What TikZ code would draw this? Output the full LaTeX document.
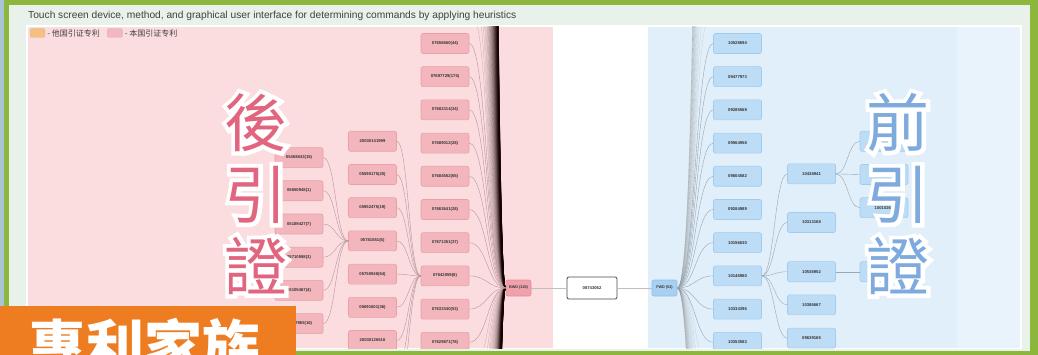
\documentclass[tikz,border=0pt]{standalone}
\usepackage{fontspec}
\setmainfont{Liberation Sans}
\newfontfamily\cjkfont{Noto Sans CJK TC}
\newfontfamily\cjkhalo[FakeBold=13]{Noto Sans CJK TC}
\newfontfamily\cjkscfont{Noto Sans CJK SC}
\usetikzlibrary{positioning, calc}

\definecolor{frameGreen}{HTML}{8DB73C}
\definecolor{stripBlue}{HTML}{A9C4D6}
\definecolor{panelBg}{HTML}{E8F2EB}
\definecolor{pinkBg}{HTML}{FBDDE0}
\definecolor{blueBg}{HTML}{E1EFFA}
\definecolor{pinkNode}{HTML}{F3B6BC}
\definecolor{pinkLine}{HTML}{E9A0A9}
\definecolor{blueNode}{HTML}{BDDCF5}
\definecolor{blueLine}{HTML}{A2CBEE}
\definecolor{bwdFill}{HTML}{F0A2AC}
\definecolor{bwdLine}{HTML}{E88A98}
\definecolor{fwdFill}{HTML}{A9D0F0}
\definecolor{fwdLine}{HTML}{8CBFEA}
\definecolor{houPink}{HTML}{E2657F}
\definecolor{qianBlue}{HTML}{7FAADD}
\definecolor{bannerOrange}{HTML}{EE7D22}
\definecolor{legOrange}{HTML}{F6C07C}
\definecolor{legPink}{HTML}{F5B7BF}
\definecolor{linkPink}{HTML}{B8959B}
\definecolor{linkBlue}{HTML}{9AA6B2}

\begin{document}
\begin{tikzpicture}[
    x=1pt, y=-1pt,
    pn/.style={draw=pinkLine, fill=pinkNode, rounded corners=2pt, line width=0.6pt,
               minimum width=48pt, minimum height=20pt, inner sep=0pt,
               font=\fontsize{4.2}{5}\selectfont\bfseries, text=black!80},
    bn/.style={pn, draw=blueLine, fill=blueNode},
    hub/.style={pn, minimum width=25pt, minimum height=16pt,
                font=\fontsize{3.8}{4.5}\selectfont\bfseries},
    lnk/.style={to path={.. controls +(#1,0) and +(-#1,0) .. (\tikztotarget) \tikztonodes}},
    plink/.style={draw=linkPink, line width=0.4pt},
    blink/.style={draw=linkBlue, line width=0.4pt},
    fanL/.style={draw=black!80!red!40!black, line width=0.25pt, opacity=0.25},
    fanR/.style={draw=black!45, line width=0.3pt, opacity=0.3},
    legbox/.style={draw=black!25, rounded corners=2pt, minimum width=15pt,
                   minimum height=9pt, inner sep=0pt},
    bigtxt/.style={font=\cjkfont\fontsize{63}{72}\selectfont, align=center, inner sep=0pt},
    halo/.style={bigtxt, font=\cjkhalo\fontsize{63}{72}\selectfont, text=white}
]
\useasboundingbox (0,0) rectangle (1038,355);
\clip (0,0) rectangle (1038,355);

%---------------- frame and panels ----------------
\fill[frameGreen] (0,0) rectangle (1038,355);
\fill[stripBlue] (0,0) rectangle (4,355);
\fill[panelBg] (9,5) rectangle (1030,351);
\fill[white] (26,25) rectangle (1022,349);
\fill[pinkBg] (28,27) rectangle (553,348);
\fill[blueBg] (648,27) rectangle (1020,348);
\fill[blueBg!75!white] (957,27) rectangle (1020,348);

\node[anchor=west, inner sep=0pt, font=\fontsize{10.2}{12}\selectfont, text=black!75] (title)
    at (28,16) {Touch screen device, method, and graphical user interface for determining commands by applying heuristics};

\node[legbox, fill=legOrange] (lego) at (37.5,33) {};
\node[right=2pt of lego, inner sep=0pt, font=\cjkscfont\fontsize{8}{9}\selectfont, text=black!75] (legotxt) {- 他国引证专利};
\node[legbox, fill=legPink, right=7pt of legotxt] (legp) {};
\node[right=2pt of legp, inner sep=0pt, font=\cjkscfont\fontsize{8}{9}\selectfont, text=black!75] (legptxt) {- 本国引证专利};

\begin{scope}
\clip (28,27) rectangle (1020,348);

%---------------- backward citations ----------------
\node[hub, fill=bwdFill, draw=bwdLine] (bwd) at (518.5,288) {BWD (320)};

\node[pn] (c1) at (445,43.5) {07656660(44)};
\node[pn, below=12.6pt of c1] (c2) {07697729(175)};
\node[pn, below=12.6pt of c2] (c3) {07682314(34)};
\node[pn, below=12.6pt of c3] (c4) {07689012(28)};
\node[pn, below=12.6pt of c4] (c5) {07684552(65)};
\node[pn, below=12.6pt of c5] (c6) {07663641(28)};
\node[pn, below=12.6pt of c6] (c7) {07671351(37)};
\node[pn, below=12.6pt of c7] (c8) {07642059(8)};
\node[pn, below=12.6pt of c8] (c9) {07633340(53)};
\node[pn, below=12.6pt of c9] (c10) {07629871(78)};

\node[pn] (b1) at (372.5,141.3) {20030141999};
\node[pn, below=12.6pt of b1] (b2) {05590175(20)};
\node[pn, below=12.6pt of b2] (b3) {05952475(19)};
\node[pn, below=12.6pt of b3] (b4) {05781651(6)};
\node[pn, below=12.6pt of b4] (b5) {05750948(64)};
\node[pn, below=12.6pt of b5] (b6) {05691601(36)};
\node[pn, below=12.6pt of b6] (b7) {20030126516};
\coordinate (b8) at (396.5,369.5);
\coordinate (b9) at (396.5,402.1);

\node[pn] (a1) at (299,157.6) {05458843(15)};
\node[pn, below=12.6pt of a1] (a2) {05650948(1)};
\node[pn, below=12.6pt of a2] (a3) {05189427(7)};
\node[pn, below=12.6pt of a3] (a4) {05710598(3)};
\node[pn, below=12.6pt of a4] (a5) {05105467(4)};
\node[pn, below=12.6pt of a5] (a6) {05717965(16)};

% links, and the fan to the children out of view
\foreach \k in {8,...,159} {
  \coordinate (u\k) at (470,{271.7-32.6*\k});
  \draw[fanL] (bwd.west) to[lnk=-21] (u\k);
}
\foreach \k in {2,...,159} {
  \coordinate (l\k) at (470,{304.3+32.6*\k});
  \draw[fanL] (bwd.west) to[lnk=-21] (l\k);
}
\foreach \i in {1,...,10} \draw[plink] (bwd.west) to[lnk=-18] (c\i.east);
\foreach \i in {1,...,7} \draw[plink] (c8.west) to[lnk=-11.5] (b\i.east);
\foreach \i in {8,9} \draw[plink] (c8.west) to[lnk=-11.5] (b\i);
\foreach \i in {1,...,6} \draw[plink] (b4.west) to[lnk=-12.5] (a\i.east);

%---------------- the patent ----------------
\node[pn, draw=black!70, fill=white, line width=0.8pt, minimum width=50pt,
      minimum height=22pt] (pat) at (592,288) {08743062};

%---------------- forward citations ----------------
\node[hub, fill=fwdFill, draw=fwdLine] (fwd) at (664.5,288) {FWD (52)};

\draw[draw=black!25, line width=0.5pt] (bwd.east) -- (pat.west);
\draw[draw=black!25, line width=0.5pt] (pat.east) -- (fwd.west);

\node[bn] (d1) at (737.5,43.5) {10528694};
\node[bn, below=12.6pt of d1] (d2) {09477973};
\node[bn, below=12.6pt of d2] (d3) {09285569};
\node[bn, below=12.6pt of d3] (d4) {09564958};
\node[bn, below=12.6pt of d4] (d5) {09804582};
\node[bn, below=12.6pt of d5] (d6) {09284989};
\node[bn, below=12.6pt of d6] (d7) {10156630};
\node[bn, below=12.6pt of d7] (d8) {10146980};
\node[bn, below=12.6pt of d8] (d9) {10334396};
\node[bn, below=12.6pt of d9] (d10) {10353583};

\node[bn] (e1) at (811.5,173.9) {10438941};
\node[bn] (e2) at (811.5,222.5) {10313168};
\node[bn] (e3) at (811.5,271.7) {10536952};
\node[bn, below=12.6pt of e3] (e4) {10386667};
\node[bn, below=12.6pt of e4] (e5) {09639165};

\node[bn] (f1) at (884,141.3) {10168527};
\node[bn, below=12.6pt of f1] (f2) {10101091};
\node[bn, below=12.6pt of f2] (f3) {10010261};
\node[bn] (f4) at (884,271.7) {10845962};

\foreach \k in {8,...,25} {
  \coordinate (ru\k) at (713,{271.7-32.6*\k});
  \draw[fanR] (fwd.east) to[lnk=22] (ru\k);
}
\foreach \k in {2,...,25} {
  \coordinate (rl\k) at (713,{304.3+32.6*\k});
  \draw[fanR] (fwd.east) to[lnk=22] (rl\k);
}
\foreach \i in {1,...,10} \draw[blink] (fwd.east) to[lnk=18] (d\i.west);
\foreach \i in {1,...,5} \draw[blink] (d8.east) to[lnk=12.5] (e\i.west);
\foreach \i in {1,2,3} \draw[blink] (e1.east) to[lnk=12] (f\i.west);
\draw[blink] (e3.east) to[lnk=12] (f4.west);
\end{scope}

%---------------- big captions ----------------
\node[halo] (houhalo) at (256,194) {後\\引\\證};
\node[bigtxt, text=houPink] (houtxt) at (houhalo) {後\\引\\證};

\node[halo] (qianhalo) at (898,194) {前\\引\\證};
\node[bigtxt, text=qianBlue] (qiantxt) at (qianhalo) {前\\引\\證};

\fill[bannerOrange] (0,306) rectangle (296,360);
\node[anchor=base west, inner sep=0pt, text=white,
      font=\cjkfont\bfseries\fontsize{58}{58}\selectfont] (banner) at (28,368) {專利家族};

\end{tikzpicture}
\end{document}
